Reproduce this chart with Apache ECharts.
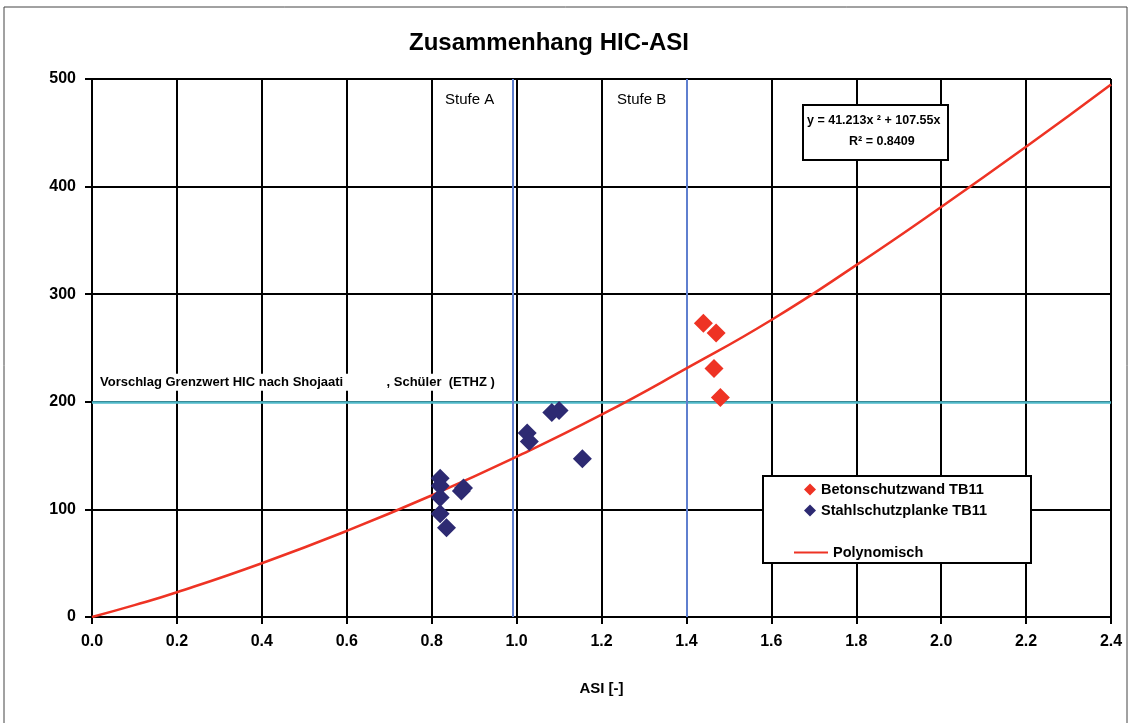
<!DOCTYPE html>
<html>
<head>
<meta charset="utf-8">
<script src="https://cdn.jsdelivr.net/npm/echarts@6/dist/echarts.min.js"></script>
<style>
  html, body { margin: 0; padding: 0; background: #fff; }
  #chart { width: 1131px; height: 723px; }
</style>
</head>
<body>
<div id="chart"></div>
<script>
// Daten
const betonASI = [1.44, 1.47, 1.465, 1.48];
const betonHIC = [273, 264, 231, 204];
const stahlASI = [0.82, 0.82, 0.82, 0.82, 0.835, 0.87, 0.875, 1.025, 1.03, 1.083, 1.10, 1.155];
const stahlHIC = [129, 122, 111, 96, 83, 117, 120, 171, 163, 190, 192, 147];
// Trendlinie (Polynomisch)
const polyASI = [0, 0.1, 0.2, 0.4, 0.6, 0.8, 1.0, 1.2, 1.4, 1.6, 1.8, 2.0, 2.2, 2.4];
const polyHIC = [0, 11, 23, 50, 80, 113, 149, 188, 231, 276, 327, 381, 437, 495];
const stufeA = 0.99;
const stufeB = 1.4;
const grenzwert = 200;

const font = '"Liberation Sans", Arial, sans-serif';

const chart = echarts.init(document.getElementById('chart'));

const option = {
  backgroundColor: '#fff',
  animation: false,
  title: {
    text: 'Zusammenhang HIC-ASI',
    left: 544,
    textAlign: 'center',
    top: 26,
    textStyle: { fontFamily: font, fontSize: 24, fontWeight: 'bold', color: '#000' }
  },
  grid: { left: 92, right: 20, top: 79, bottom: 106 },
  xAxis: {
    type: 'value', min: 0, max: 2.4, interval: 0.2,
    name: 'ASI [-]', nameLocation: 'middle', nameGap: 64,
    nameTextStyle: { fontFamily: font, fontSize: 15, fontWeight: 'bold', color: '#000' },
    axisLine: { lineStyle: { color: '#000', width: 2 } },
    axisTick: { show: true, length: 7, lineStyle: { color: '#000', width: 2 } },
    axisLabel: {
      formatter: v => v.toFixed(1), margin: 17,
      fontFamily: font, fontSize: 16, fontWeight: 'bold', color: '#000'
    },
    splitLine: { show: true, lineStyle: { color: '#000', width: 2 } }
  },
  yAxis: {
    type: 'value', min: 0, max: 500, interval: 100,
    axisLine: { show: true, lineStyle: { color: '#000', width: 2 } },
    axisTick: { show: true, length: 7, lineStyle: { color: '#000', width: 2 } },
    axisLabel: { margin: 16, fontFamily: font, fontSize: 16, fontWeight: 'bold', color: '#000' },
    splitLine: { show: true, lineStyle: { color: '#000', width: 2 } }
  },
  legend: [
    {
      orient: 'vertical', left: 799, top: 477, itemGap: 6,
      itemWidth: 12, itemHeight: 12,
      textStyle: { fontFamily: font, fontSize: 14.5, fontWeight: 'bold', color: '#000' },
      data: [
        { name: 'Betonschutzwand TB11', icon: 'diamond' },
        { name: 'Stahlschutzplanke TB11', icon: 'diamond' }
      ]
    },
    {
      orient: 'vertical', left: 789, top: 540,
      itemWidth: 34, itemHeight: 2,
      textStyle: { fontFamily: font, fontSize: 14.5, fontWeight: 'bold', color: '#000' },
      data: [{ name: 'Polynomisch', icon: 'rect' }]
    }
  ],
  graphic: [
    { type: 'rect', z: 0, silent: true,
      shape: { x: 4, y: 7, width: 1123, height: 730 },
      style: { fill: null, stroke: '#444', lineWidth: 1 } },
    { type: 'rect', z: 3, silent: true,
      shape: { x: 763, y: 476, width: 268, height: 87 },
      style: { fill: '#fff', stroke: '#000', lineWidth: 2 } },
    { type: 'rect', z: 3, silent: true,
      shape: { x: 803, y: 105, width: 145, height: 55 },
      style: { fill: '#fff', stroke: '#000', lineWidth: 2 } },
    { type: 'text', z: 4, silent: true, left: 807, top: 114,
      style: { text: 'y = 41.213x \u00b2 + 107.55x', fontFamily: font, fontSize: 12.5, fontWeight: 'bold', fill: '#000' } },
    { type: 'text', z: 4, silent: true, left: 849, top: 135,
      style: { text: 'R\u00b2 = 0.8409', fontFamily: font, fontSize: 12.5, fontWeight: 'bold', fill: '#000' } },
    { type: 'text', z: 4, silent: true, left: 445, top: 92,
      style: { text: 'Stufe A', fontFamily: font, fontSize: 15, fill: '#000' } },
    { type: 'text', z: 4, silent: true, left: 617, top: 92,
      style: { text: 'Stufe B', fontFamily: font, fontSize: 15, fill: '#000' } }
  ],
  series: [
    {
      name: 'Polynomisch', type: 'line', smooth: true, showSymbol: false,
      data: polyASI.map((x, i) => [x, polyHIC[i]]),
      lineStyle: { color: '#ee3324', width: 2.5 },
      itemStyle: { color: '#ee3324' },
      z: 3,
      markLine: {
        silent: true, symbol: 'none', z: 2,
        data: [
          {
            yAxis: grenzwert,
            lineStyle: { color: '#4fb9c9', width: 2.5, type: 'solid' },
            label: {
              show: true, position: 'insideStartTop', distance: [4, 11],
              formatter: 'Vorschlag Grenzwert HIC nach Shojaati            , Schüler  (ETHZ )',
              fontFamily: font, fontSize: 13, fontWeight: 'bold', color: '#000',
              backgroundColor: '#fff', padding: [2, 4]
            }
          },
          { xAxis: stufeA, lineStyle: { color: '#5f7fcf', width: 2, type: 'solid' }, label: { show: false } },
          { xAxis: stufeB, lineStyle: { color: '#5f7fcf', width: 2, type: 'solid' }, label: { show: false } }
        ]
      }
    },
    {
      name: 'Betonschutzwand TB11', type: 'scatter', symbol: 'diamond', symbolSize: 19,
      data: betonASI.map((x, i) => [x, betonHIC[i]]),
      itemStyle: { color: '#ee3324', opacity: 1 }, z: 4
    },
    {
      name: 'Stahlschutzplanke TB11', type: 'scatter', symbol: 'diamond', symbolSize: 19,
      data: stahlASI.map((x, i) => [x, stahlHIC[i]]),
      itemStyle: { color: '#2d2a72', opacity: 1 }, z: 4
    }
  ]
};

chart.setOption(option);
</script>
</body>
</html>
